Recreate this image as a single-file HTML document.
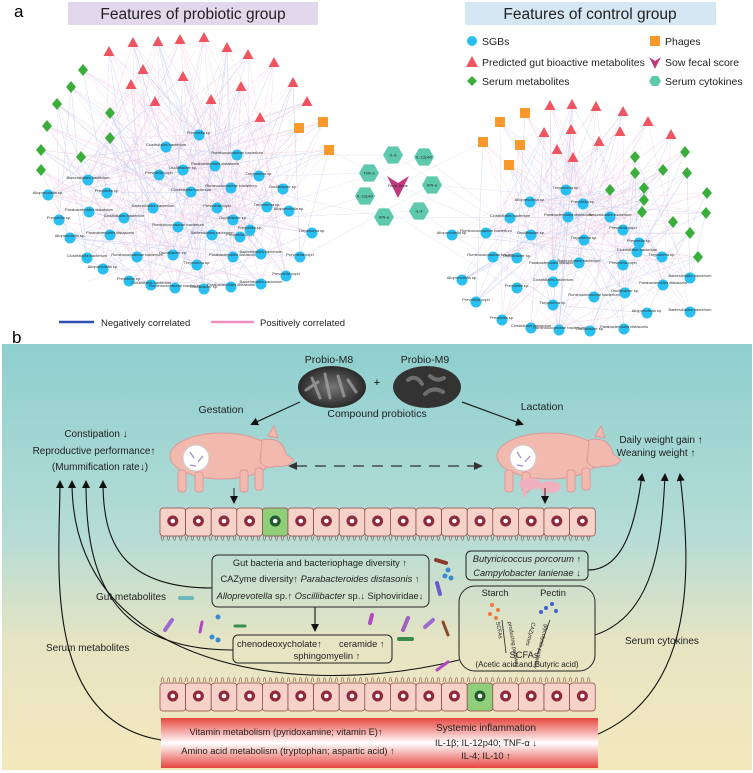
<!DOCTYPE html>
<html><head><meta charset="utf-8"><style>
html,body{margin:0;padding:0;background:#fff;}
svg{display:block;font-family:"Liberation Sans",sans-serif;}
</style></head><body>
<svg id="s" width="753" height="773" viewBox="0 0 753 773" xmlns="http://www.w3.org/2000/svg">
<defs>
<linearGradient id="bg" x1="0" y1="0" x2="0" y2="1">
<stop offset="0" stop-color="#8ecfcf"/><stop offset="0.45" stop-color="#b5dcd5"/><stop offset="0.7" stop-color="#e6e4c3"/><stop offset="1" stop-color="#f5e8bd"/></linearGradient>
<linearGradient id="rb" x1="0" y1="0" x2="0" y2="1">
<stop offset="0" stop-color="#e6463f"/><stop offset="0.5" stop-color="#ffffff"/><stop offset="1" stop-color="#e6463f"/></linearGradient>
<radialGradient id="ov" cx="0.5" cy="0.5" r="0.6"><stop offset="0" stop-color="#777"/><stop offset="1" stop-color="#1a1a1a"/></radialGradient>
<marker id="ah" markerWidth="8" markerHeight="8" refX="6" refY="4" orient="auto" markerUnits="userSpaceOnUse"><path d="M0,0 L8,4 L0,8 Z" fill="#111"/></marker>
</defs>
<g id="edges" stroke-width="0.4" opacity="0.35"></g>
<g id="nodes"></g>
<text x="14" y="17" font-size="17">a</text>
<rect x="68" y="2" width="250" height="23" fill="#e3d7ec"/>
<text x="193" y="19" font-size="15.5" text-anchor="middle" fill="#222">Features of probiotic group</text>
<rect x="465" y="2" width="251" height="23" fill="#d4e7f3"/>
<text x="590" y="19" font-size="15.5" text-anchor="middle" fill="#222">Features of control group</text>
<g font-size="10.5" fill="#222">
<circle cx="472" cy="41" r="5" fill="#29bff0"/><text x="482" y="45">SGBs</text>
<polygon points="472,56 478,67 466,67" fill="#ee5560"/><text x="482" y="66">Predicted gut bioactive metabolites</text>
<polygon points="472,76 477,81 472,86 467,81" fill="#3aae3a"/><text x="482" y="85">Serum metabolites</text>
<rect x="650" y="36" width="10" height="10" fill="#f79a2b"/><text x="665" y="45">Phages</text>
<path d="M649,57 L655,61 L661,57 L655,69 Z" fill="#c2387f"/><text x="665" y="66">Sow fecal score</text>
<polygon points="652,76 658,76 661,81 658,86 652,86 649,81" fill="#5ec9ad"/><text x="665" y="85">Serum cytokines</text>
</g>
<line x1="59" y1="322" x2="94" y2="322" stroke="#2f50b0" stroke-width="2.5"/>
<text x="101" y="326" font-size="9.5" fill="#222">Negatively correlated</text>
<line x1="211" y1="322" x2="254" y2="322" stroke="#ef8fc0" stroke-width="2.5"/>
<text x="260" y="326" font-size="9.5" fill="#222">Positively correlated</text>

<text x="12" y="343" font-size="17">b</text>
<rect x="2" y="344" width="750" height="426" fill="url(#bg)"/>
<text x="329" y="363" font-size="10.5" text-anchor="middle" fill="#222">Probio-M8</text>
<text x="425" y="363" font-size="10.5" text-anchor="middle" fill="#222">Probio-M9</text>
<ellipse cx="332" cy="387" rx="34" ry="21" fill="url(#ov)"/>
<ellipse cx="427" cy="387" rx="34" ry="21" fill="#333"/>
<g stroke="#aaa" stroke-width="3" stroke-linecap="round" opacity="0.7">
<line x1="312" y1="378" x2="320" y2="398"/><line x1="325" y1="374" x2="330" y2="398"/><line x1="338" y1="376" x2="344" y2="396"/><line x1="348" y1="380" x2="356" y2="392"/><line x1="306" y1="390" x2="318" y2="382"/>
<path d="M408,380 q8,-6 14,4" fill="none" stroke="#888" stroke-width="4"/><path d="M425,394 q8,-8 18,-2" fill="none" stroke="#888" stroke-width="4"/><path d="M430,376 q6,6 14,2" fill="none" stroke="#888" stroke-width="4"/></g>
<text x="377" y="386" font-size="11" text-anchor="middle">+</text>
<text x="221" y="413" font-size="10.5" text-anchor="middle" fill="#222">Gestation</text>
<text x="377" y="417" font-size="10.5" text-anchor="middle" fill="#222">Compound probiotics</text>
<text x="542" y="410" font-size="10.5" text-anchor="middle" fill="#222">Lactation</text>
<line x1="300" y1="402" x2="252" y2="424" stroke="#222" stroke-width="1.2" marker-end="url(#ah)"/>
<line x1="462" y1="402" x2="522" y2="424" stroke="#222" stroke-width="1.2" marker-end="url(#ah)"/>
<g font-size="10" fill="#222">
<text x="96" y="437" text-anchor="middle">Constipation ↓</text>
<text x="94" y="454" text-anchor="middle">Reproductive performance↑</text>
<text x="100" y="470" text-anchor="middle">(Mummification rate↓)</text>
<text x="661" y="443" text-anchor="middle">Daily weight gain ↑</text>
<text x="656" y="456" text-anchor="middle">Weaning weight ↑</text>
</g>
<g fill="#f2b9ae" stroke="#d99">
<g id="pig">
<ellipse cx="222" cy="456" rx="52" ry="23"/>
<path d="M262,440 q20,-4 24,14 l8,6 q-6,8 -18,6 q-10,4 -16,-4 z"/>
<path d="M268,436 l6,-10 l4,12 z"/>
<rect x="178" y="470" width="8" height="22" rx="3"/><rect x="195" y="472" width="8" height="20" rx="3"/>
<rect x="240" y="470" width="8" height="22" rx="3"/><rect x="255" y="468" width="8" height="22" rx="3"/>
</g>
<use href="#pig" transform="translate(327,0)"/>
</g>
<circle cx="196" cy="458" r="13" fill="#fff" stroke="#ccc"/><circle cx="523" cy="458" r="13" fill="#fff" stroke="#ccc"/>
<g stroke="#9b8ad0" stroke-width="1.2"><line x1="190" y1="452" x2="194" y2="458"/><line x1="198" y1="462" x2="203" y2="456"/><line x1="190" y1="465" x2="196" y2="466"/><line x1="517" y1="452" x2="521" y2="458"/><line x1="525" y1="462" x2="530" y2="456"/><line x1="517" y1="465" x2="523" y2="466"/></g>
<g fill="#f0b0c0"><ellipse cx="530" cy="484" rx="11" ry="6"/><ellipse cx="550" cy="487" rx="11" ry="6"/><rect x="523" y="488" width="3" height="9"/><rect x="543" y="491" width="3" height="8"/></g>
<line x1="296" y1="466" x2="475" y2="466" stroke="#333" stroke-width="1.3" stroke-dasharray="11,8"/>
<path d="M288,466 l9,-4 v8 z M483,466 l-9,-4 v8 z" fill="#333"/>
<line x1="234" y1="488" x2="234" y2="502" stroke="#222" marker-end="url(#ah)"/>
<line x1="545" y1="488" x2="545" y2="502" stroke="#222" marker-end="url(#ah)"/>
<g id="epi1"></g><g id="epi2"></g>
<g fill="none" stroke="#111" stroke-width="1.1">
<path d="M212,588 C120,588 103,540 103,482" marker-end="url(#ah)"/>
<path d="M233,650 C100,650 86,560 86,482" marker-end="url(#ah)"/>
<path d="M459,660 C300,700 72,670 72,482" marker-end="url(#ah)"/>
<path d="M161,740 C40,720 60,560 60,482" marker-end="url(#ah)"/>
<path d="M588,570 C625,570 636,520 642,475" marker-end="url(#ah)"/>
<path d="M595,635 C655,615 662,540 665,475" marker-end="url(#ah)"/>
<path d="M558,746 C705,720 690,560 680,475" marker-end="url(#ah)"/>
</g>
<rect x="212" y="555" width="217" height="52" rx="6" fill="none" stroke="#222"/>
<g font-size="9.3" fill="#222">
<text x="320" y="566" text-anchor="middle">Gut bacteria and bacteriophage diversity ↑</text>
<text x="320" y="582" text-anchor="middle">CAZyme diversity↑ <tspan font-style="italic">Parabacteroides distasonis</tspan> ↑</text>
<text x="320" y="599" text-anchor="middle"><tspan font-style="italic">Alloprevotella</tspan> sp.↑ <tspan font-style="italic">Oscillibacter</tspan> sp.↓ Siphoviridae↓</text>
</g>
<rect x="466" y="551" width="122" height="29" rx="5" fill="none" stroke="#222"/>
<g font-size="9.3" fill="#222" font-style="italic">
<text x="527" y="562" text-anchor="middle">Butyricicoccus porcorum ↑</text>
<text x="527" y="576" text-anchor="middle">Campylobacter lanienae ↓</text>
</g>
<text x="96" y="600" font-size="10" fill="#222">Gut metabolites</text>
<line x1="315" y1="607" x2="315" y2="630" stroke="#222" stroke-width="1.2" marker-end="url(#ah)"/>
<rect x="233" y="635" width="159" height="28" rx="5" fill="none" stroke="#222"/>
<g font-size="9.3" fill="#222"><text x="237" y="647">chenodeoxycholate↑</text><text x="339" y="647">ceramide ↑</text><text x="327" y="659" text-anchor="middle">sphingomyelin ↑</text></g>
<text x="46" y="651" font-size="10" fill="#222">Serum metabolites</text>
<text x="625" y="644" font-size="10" fill="#222">Serum cytokines</text>
<rect x="459" y="586" width="136" height="85" rx="16" fill="none" stroke="#222"/>
<g font-size="9.3" fill="#222"><text x="495" y="596" text-anchor="middle">Starch</text><text x="553" y="596" text-anchor="middle">Pectin</text>
<text x="524" y="658" text-anchor="middle">SCFAs</text><text x="527" y="667" text-anchor="middle" font-size="8">(Acetic acid and Butyric acid)</text></g>
<g fill="#f07a40"><circle cx="492" cy="605" r="2"/><circle cx="498" cy="610" r="2"/><circle cx="490" cy="614" r="2"/><circle cx="496" cy="618" r="2"/></g>
<g fill="#4060d0"><circle cx="552" cy="604" r="2"/><circle cx="546" cy="608" r="2"/><circle cx="556" cy="611" r="2"/><circle cx="541" cy="612" r="2"/></g>
<line x1="502" y1="620" x2="506" y2="653" stroke="#222" stroke-width="0.8"/><line x1="550" y1="620" x2="538" y2="653" stroke="#222" stroke-width="0.8"/>
<g font-size="5.5" fill="#222"><text transform="translate(496,622) rotate(80)">SCFAs</text><text transform="translate(508,622) rotate(80)">producing pathway</text><text transform="translate(532,622) rotate(105)">CAZymes</text><text transform="translate(545,624) rotate(105)">glycolysis pathway</text></g>
<g stroke-linecap="round">
<line x1="165" y1="630" x2="172" y2="620" stroke="#9a6ad0" stroke-width="4"/>
<line x1="200" y1="632" x2="202" y2="622" stroke="#b04ac0" stroke-width="3"/>
<line x1="235" y1="626" x2="245" y2="626" stroke="#3a8a4a" stroke-width="3"/>
<line x1="180" y1="598" x2="192" y2="598" stroke="#6ab8b8" stroke-width="4"/>
<line x1="370" y1="623" x2="372" y2="615" stroke="#b04ac0" stroke-width="4"/>
<line x1="403" y1="630" x2="408" y2="618" stroke="#a060c0" stroke-width="4"/>
<line x1="425" y1="627" x2="433" y2="620" stroke="#9a6ad0" stroke-width="4"/>
<line x1="443" y1="622" x2="448" y2="635" stroke="#8a4a2a" stroke-width="3"/>
<line x1="436" y1="560" x2="446" y2="563" stroke="#8a3a2a" stroke-width="4"/>
<line x1="399" y1="639" x2="412" y2="639" stroke="#3a8a4a" stroke-width="4"/>
<line x1="437" y1="670" x2="448" y2="662" stroke="#b04ac0" stroke-width="3"/>
<line x1="437" y1="583" x2="440" y2="594" stroke="#6a5ad0" stroke-width="4"/>
</g>
<g fill="#3a8ad0"><circle cx="448" cy="570" r="2.5"/><circle cx="445" cy="576" r="2.5"/><circle cx="451" cy="578" r="2.5"/><circle cx="218" cy="617" r="2.5"/><circle cx="212" cy="637" r="2.5"/><circle cx="218" cy="640" r="2.5"/></g>
<rect x="161" y="718" width="437" height="50" fill="url(#rb)"/>
<g font-size="9.3" fill="#222">
<text x="286" y="735" text-anchor="middle">Vitamin metabolism (pyridoxamine;  vitamin E)↑</text>
<text x="288" y="754" text-anchor="middle">Amino acid metabolism (tryptophan; aspartic acid) ↑</text>
<text x="486" y="731" text-anchor="middle" font-size="10">Systemic inflammation</text>
<text x="486" y="746" text-anchor="middle">IL-1β; IL-12p40; TNF-α ↓</text>
<text x="486" y="759" text-anchor="middle">IL-4; IL-10  ↑</text>
</g>
</svg>
<script>
var NS="http://www.w3.org/2000/svg",S=document.getElementById('s');
function el(t,a,p){var e=document.createElementNS(NS,t);for(var k in a)e.setAttribute(k,a[k]);(p||S).appendChild(e);return e;}
function epi(g,y0,villiTop,green){var G=document.getElementById(g);
 for(var i=0;i<17;i++){var x=160+i*25.6;
  el('rect',{x:x,y:y0,width:25.6,height:28,rx:3,fill:i==green?'#8fcf7a':'#f6d2c8',stroke:'#8a4040','stroke-width':0.7},G);
  el('circle',{cx:x+12.8,cy:y0+13,r:5.5,fill:i==green?'#1f5a30':'#8e2a3c'},G);
  el('circle',{cx:x+12.8,cy:y0+13,r:2.3,fill:'#fff'},G);}
 var d='',vy=villiTop?y0-1:y0+28;
 for(var j=0;j<72;j++){var xx=161+j*6;d+='M'+xx+','+vy+' q1.5,'+(villiTop?-9:9)+' 3,0 ';}
 el('path',{d:d,fill:'none',stroke:'#8a4040','stroke-width':0.6},G);}
epi('epi1',508,false,4);epi('epi2',683,true,12);
var seed=7;function r(){seed=(seed*16807)%2147483647;return seed/2147483647;}
var E=document.getElementById('edges'),N=document.getElementById('nodes');
function hex(x,y,s){var p=[];for(var i=0;i<6;i++){var a=Math.PI/3*i;p.push((x+s*Math.cos(a))+','+(y+s*Math.sin(a)));}return p.join(' ');}
var LB=[[199,135],[166,147],[237,155],[183,170],[215,166],[88,180],[159,175],[259,176],[48,195],[107,193],[191,192],[231,188],[283,189],[89,212],[153,208],[217,208],[267,207],[289,211],[59,220],[124,218],[178,227],[233,220],[110,235],[212,235],[240,237],[312,233],[70,238],[250,230],[87,258],[137,257],[173,255],[233,257],[261,254],[300,257],[197,265],[103,269],[129,281],[151,285],[175,288],[204,289],[231,287],[261,284],[286,276]];
var LR=[[109,52],[133,43],[158,42],[180,40],[204,38],[227,48],[248,55],[274,63],[143,70],[183,77],[131,85],[241,87],[293,83],[155,102],[211,100],[307,102],[260,118]];
var LG=[[83,70],[71,87],[57,104],[110,113],[47,126],[110,138],[41,150],[81,157],[41,170]];
var LO=[[299,128],[323,122],[329,150]];
var RB=[[566,190],[530,202],[583,204],[510,218],[486,233],[531,235],[568,217],[610,217],[623,230],[584,240],[452,235],[639,243],[637,252],[493,257],[517,258],[553,265],[579,263],[623,265],[662,257],[462,280],[517,288],[553,282],[594,297],[625,293],[663,285],[690,278],[476,302],[553,305],[647,313],[502,320],[531,328],[559,330],[590,331],[624,329],[690,312]];
var RR=[[544,133],[571,130],[550,106],[572,105],[596,107],[623,112],[648,122],[620,132],[671,135],[599,142],[557,150],[573,158]];
var RG=[[685,152],[635,157],[663,170],[687,173],[635,173],[610,190],[644,188],[707,193],[644,200],[642,212],[706,213],[673,222],[690,233],[698,257]];
var RO=[[500,122],[525,113],[483,142],[520,145],[509,165]];
var CY=[[393,155,'IL-8'],[424,157,'IL-12p40'],[369,173,'TNF-a'],[432,185,'IFN-a'],[365,196,'IL-12p40'],[419,211,'IL-4'],[384,217,'IFN-a']];
function edges(src,dst,n){src.forEach(function(a){for(var i=0;i<n;i++){var b=dst[Math.floor(r()*dst.length)];el('line',{x1:a[0],y1:a[1],x2:b[0],y2:b[1],stroke:r()<0.55?'#e77fb5':'#5a6ed0'},E);}});}
var LA=LR.concat(LG,LO),RA=RR.concat(RG,RO);
edges(LA,LB,7);edges(LB,LB,2);edges(RA,RB,5);edges(RB,RB,1);
CY.forEach(function(c){el('line',{x1:c[0],y1:c[1],x2:LB[Math.floor(r()*LB.length)][0],y2:LB[Math.floor(r()*LB.length)][1],stroke:'#8a9ad8'},E);el('line',{x1:c[0],y1:c[1],x2:RB[Math.floor(r()*RB.length)][0],y2:RB[Math.floor(r()*RB.length)][1],stroke:'#8a9ad8'},E);});
el('line',{x1:398,y1:185,x2:329,y2:150,stroke:'#8a9ad8'},E);el('line',{x1:398,y1:185,x2:483,y2:142,stroke:'#8a9ad8'},E);
var names=['Prevotella sp.','Clostridiales bacterium','Ruminococcaceae bacterium','Oscillibacter sp.','Parabacteroides distasonis','Bacteroidales bacterium','Prevotella copri','Treponema sp.','Alloprevotella sp.'];
LB.concat(RB).forEach(function(p,i){el('circle',{cx:p[0],cy:p[1],r:5.5,fill:'#29bff0'},N);el('text',{x:p[0],y:p[1]-1,'font-size':4,'text-anchor':'middle',fill:'#333'},N).textContent=names[i%9];});
LR.concat(RR).forEach(function(p){el('polygon',{points:(p[0])+','+(p[1]-6)+' '+(p[0]+5.5)+','+(p[1]+4)+' '+(p[0]-5.5)+','+(p[1]+4),fill:'#ee5560'},N);});
LG.concat(RG).forEach(function(p){el('polygon',{points:p[0]+','+(p[1]-6)+' '+(p[0]+5)+','+p[1]+' '+p[0]+','+(p[1]+6)+' '+(p[0]-5)+','+p[1],fill:'#3aae3a'},N);});
LO.concat(RO).forEach(function(p){el('rect',{x:p[0]-5,y:p[1]-5,width:10,height:10,fill:'#f79a2b'},N);});
CY.forEach(function(c){el('polygon',{points:hex(c[0],c[1],10),fill:'#5ec9ad'},N);el('text',{x:c[0],y:c[1]+1.5,'font-size':4,'text-anchor':'middle',fill:'#222'},N).textContent=c[2];});
el('path',{d:'M387,176 L398,183 L409,176 L398,198 Z',fill:'#c2387f'},N);
el('text',{x:398,y:187,'font-size':3.5,'text-anchor':'middle',fill:'#222'},N).textContent='Fecal_Score';
</script>
</body></html>
